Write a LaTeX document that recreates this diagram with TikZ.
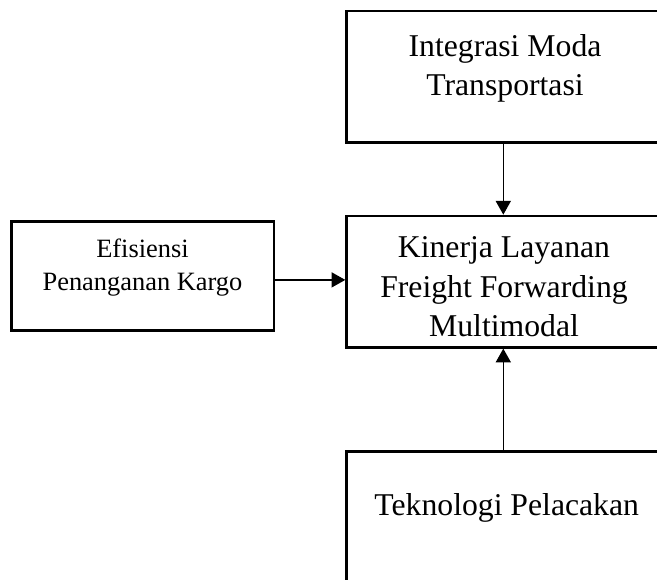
\documentclass[tikz,border=0pt]{standalone}
\usepackage{fontspec}
\setmainfont{Liberation Serif}
\usetikzlibrary{arrows.meta}

\begin{document}
\begin{tikzpicture}[x=0.3785pt, y=-0.3785pt,
        kotak/.style={draw, line width=1pt, inner sep=0pt, minimum width=118.6pt},
        teks/.style={align=center, font=\fontsize{12}{14.8}\selectfont},
        panah/.style={-{Triangle[width=5.7pt, length=5.2pt]}, line width=0.5pt}]
        \useasboundingbox (0,0) rectangle (657,579);
        \clip (0,0) rectangle (657,579);

        % kotak variabel
        \node[kotak, minimum height=49.85pt] (integrasi) at (503.3,76.9) {};
        \node[kotak, minimum height=49.7pt] (kinerja) at (503.3,281.65) {};
        \node[kotak, minimum width=99.3pt, minimum height=41.26pt] (efisiensi) at (142.85,276.2) {};
        \node[kotak, minimum height=63.7pt] (teknologi) at (503.3,535.85) {};

        % teks
        \node[teks] (tIntegrasi) at (505,68.7) {Integrasi Moda\\Transportasi};
        \node[teks] (tKinerja) at (504,286.7) {Kinerja Layanan\\Freight Forwarding\\Multimodal};
        \node[teks, font=\fontsize{10}{12.5}\selectfont] (tEfisiensi) at (142.5,267.4) {Efisiensi\\Penanganan Kargo};
        \node[teks] (tTeknologi) at (506.7,507.7) {Teknologi Pelacakan};

        % panah
        \draw[panah] (integrasi) -- (kinerja);
        \draw[panah] (teknologi) -- (kinerja);
        \draw[panah] ([yshift=-1.4pt]efisiensi.east) -- ([yshift=-1.4pt]efisiensi.east -| kinerja.west);
    \end{tikzpicture}
\end{document}
